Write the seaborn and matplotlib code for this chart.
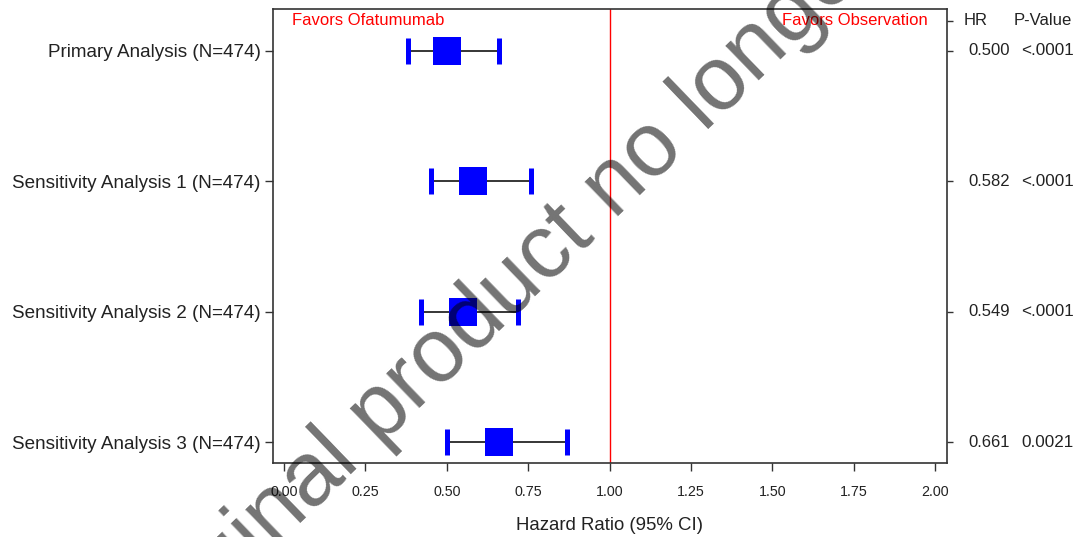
import numpy as np
import pandas as pd
import matplotlib
matplotlib.use("Agg")
from matplotlib import pyplot as plt
from matplotlib import transforms
import seaborn as sns

# forest plot data
labels = ['Primary Analysis (N=474)', 'Sensitivity Analysis 1 (N=474)',
          'Sensitivity Analysis 2 (N=474)', 'Sensitivity Analysis 3 (N=474)']
hr = [0.500, 0.582, 0.549, 0.661]
ci_low = [0.38, 0.45, 0.42, 0.50]
ci_high = [0.66, 0.76, 0.72, 0.87]
hr_text = ['0.500', '0.582', '0.549', '0.661']
p_text = ['<.0001', '<.0001', '<.0001', '0.0021']
xticks = [0.00, 0.25, 0.50, 0.75, 1.00, 1.25, 1.50, 1.75, 2.00]

sns.set_style("white")
plt.rcParams['font.family'] = ['Liberation Sans', 'DejaVu Sans']

ypos = [4, 3, 2, 1]
df = pd.DataFrame({'label': labels, 'hr': hr, 'lo': ci_low, 'hi': ci_high, 'y': ypos})

fig = plt.figure(figsize=(10.77, 5.37), dpi=100)
ax = fig.add_axes([273 / 1077, 1 - 463 / 537, (947 - 273) / 1077, (463 - 9) / 537])

ax.hlines(df['y'], df['lo'], df['hi'], color='black', linewidth=1.1, zorder=2)
caps = pd.DataFrame({'x': list(df['lo']) + list(df['hi']), 'y': ypos + ypos})
sns.scatterplot(data=caps, x='x', y='y', marker='|', s=370, color='blue',
                linewidth=3.6, ax=ax, zorder=3, legend=False)
sns.scatterplot(data=df, x='hr', y='y', marker='s', s=400, color='blue',
                linewidth=0, ax=ax, zorder=4, legend=False)
ax.axvline(1.0, color='red', linewidth=1.0, zorder=1)

ax.set_xlim(-0.034, 2.037)
ax.set_ylim(0.839, 4.321)
ax.set_xticks(xticks)
ax.set_xticklabels(['{:.2f}'.format(t) for t in xticks], fontsize=10.3, color='#222222')
ax.set_yticks(ypos)
ax.set_yticklabels(labels, fontsize=13.6, color='#222222')
ax.tick_params(axis='both', direction='out', length=6, width=1, color='#333333',
               left=True, bottom=True)
ax.tick_params(axis='x', pad=9.5)
ax.tick_params(axis='y', pad=3)
ax.set_xlabel('Hazard Ratio (95% CI)', fontsize=13.4, color='#222222', labelpad=13)
ax.set_ylabel('')
for sp in ax.spines.values():
    sp.set_color('#333333')
    sp.set_linewidth(1.2)

hdr_y = 4.23
ax2 = ax.twinx()
ax2.set_ylim(ax.get_ylim())
ax2.set_yticks([hdr_y] + ypos)
ax2.set_yticklabels([])
ax2.tick_params(axis='y', direction='out', length=4, width=1, color='#333333')
for sp in ax2.spines.values():
    sp.set_visible(False)

tr = transforms.blended_transform_factory(fig.transFigure, ax.transData)
ax.text(292 / 1077, hdr_y, 'Favors Ofatumumab', color='red', fontsize=12,
        ha='left', va='center', transform=tr)
ax.text(928 / 1077, hdr_y, 'Favors Observation', color='red', fontsize=12,
        ha='right', va='center', transform=tr)

ax.text(976 / 1077, hdr_y, 'HR', fontsize=12, ha='center', va='center', transform=tr, color='#222222')
ax.text(1043 / 1077, hdr_y, 'P-Value', fontsize=12, ha='center', va='center', transform=tr, color='#222222')
for i in range(len(labels)):
    ax.text(989 / 1077, ypos[i], hr_text[i], fontsize=12, ha='center', va='center',
            transform=tr, color='#222222')
    ax.text(1047 / 1077, ypos[i], p_text[i], fontsize=12.3, ha='center', va='center',
            transform=tr, color='#222222')

# watermark
fig.text(138 / 1077, 1 - 680 / 537, 'Original product no longer marketed', fontsize=65,
         color='black', alpha=0.55, rotation=44, rotation_mode='anchor',
         ha='left', va='baseline', zorder=10)

fig.savefig('out.png', dpi=100)
